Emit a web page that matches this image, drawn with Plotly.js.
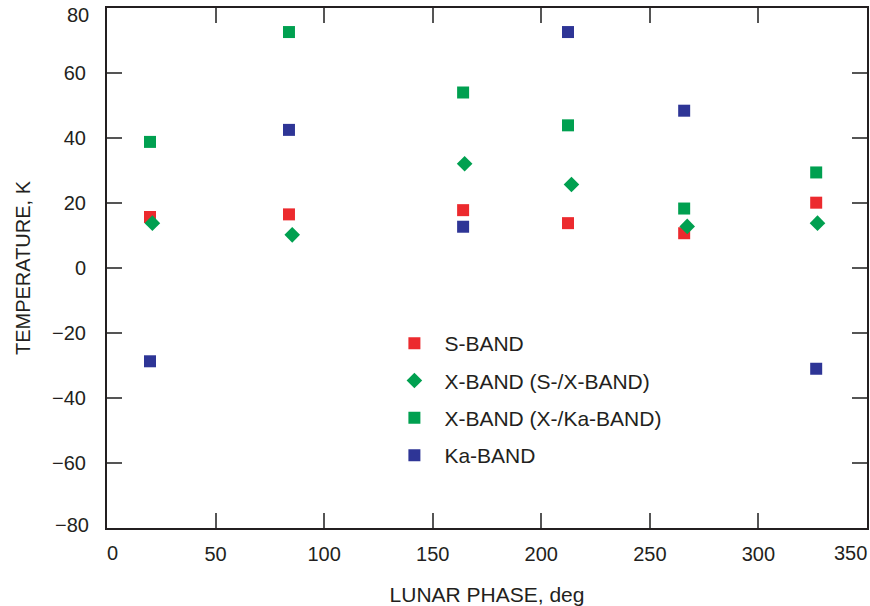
<!DOCTYPE html>
<html>
<head>
<meta charset="utf-8">
<script src="https://cdn.plot.ly/plotly-3.0.1.min.js"></script>
<style>html,body{margin:0;padding:0;background:#fff;}#chart{width:870px;height:606px;}</style>
</head>
<body>
<div id="chart"></div>
<script>
// Lunar phase (deg) and temperature (K) per band
var sBandPhase = [19.8, 83.8, 164, 212.3, 265.8, 326.6];
var sBandTemp = [15.7, 16.5, 17.8, 13.8, 10.7, 20.1];

var xBandSXPhase = [20.9, 85.3, 164.7, 213.9, 267.2, 327.2];
var xBandSXTemp = [13.8, 10.2, 32.1, 25.7, 12.8, 13.8];

var xBandXKaPhase = [19.8, 83.8, 164, 212.3, 265.8, 326.6];
var xBandXKaTemp = [38.8, 72.6, 54.0, 43.9, 18.3, 29.4];

var kaBandPhase = [19.8, 83.8, 164, 212.3, 265.8, 326.6];
var kaBandTemp = [-28.7, 42.5, 12.7, 72.6, 48.4, -31.0];

var seriesNames = ["S-BAND", "X-BAND (S-/X-BAND)", "X-BAND (X-/Ka-BAND)", "Ka-BAND"];
var seriesColors = ["#ec2a2e", "#00a050", "#00a050", "#2e3596"];
var seriesSymbols = ["square", "diamond", "square", "square"];

var xTickVals = [0, 50, 100, 150, 200, 250, 300, 350];
var xTickText = ["0", "50", "100", "150", "200", "250", "300", "350"];
var yTickVals = [-80, -60, -40, -20, 0, 20, 40, 60, 80];
var yTickText = ["\u221280", "\u221260", "\u221240", "\u221220", "0", "20", "40", "60", "80"];

var xs = [sBandPhase, xBandSXPhase, xBandXKaPhase, kaBandPhase];
var ys = [sBandTemp, xBandSXTemp, xBandXKaTemp, kaBandTemp];

var traces = [];
for (var i = 0; i < 4; i++) {
  traces.push({
    type: "scatter",
    mode: "markers",
    x: xs[i],
    y: ys[i],
    name: seriesNames[i],
    legendgroup: "g" + i,
    marker: {
      color: seriesColors[i],
      symbol: seriesSymbols[i],
      size: 12,
      line: {width: 0}
    }
  });
}

var fontFam = "Liberation Sans, Arial, Helvetica, sans-serif";
var txtColor = "#231f20";
var tickFont = {family: fontFam, size: 20, color: txtColor};

// inner tick labels drawn by the axes; the edge labels are nudged inward like the original
var lastX = xTickVals.length - 1, lastY = yTickVals.length - 1;
var xInnerText = xTickText.map(function (t, k) { return (k === 0 || k === lastX) ? "" : t; });
var yInnerText = yTickText.map(function (t, k) { return (k === 0 || k === lastY) ? "" : t; });

var annotations = [
  {xref: "x", yref: "paper", x: xTickVals[0], y: 0, text: xTickText[0], showarrow: false,
   xanchor: "center", yanchor: "middle", xshift: 5, yshift: -25, font: tickFont},
  {xref: "x", yref: "paper", x: xTickVals[lastX], y: 0, text: xTickText[lastX], showarrow: false,
   xanchor: "center", yanchor: "middle", xshift: -17, yshift: -25, font: tickFont},
  {xref: "paper", yref: "y", x: 0, y: yTickVals[0], text: yTickText[0], showarrow: false,
   xanchor: "right", yanchor: "middle", xshift: -16, yshift: 3, font: tickFont},
  {xref: "paper", yref: "y", x: 0, y: yTickVals[lastY], text: yTickText[lastY], showarrow: false,
   xanchor: "right", yanchor: "middle", xshift: -16, yshift: -7, font: tickFont}
];

var layout = {
  width: 870,
  height: 606,
  margin: {l: 107, r: 3, t: 8, b: 78},
  paper_bgcolor: "#ffffff",
  plot_bgcolor: "#ffffff",
  font: {family: fontFam, size: 20, color: txtColor},
  showlegend: true,
  legend: {
    x: 0.365, y: 0.394, xanchor: "left", yanchor: "top",
    bgcolor: "rgba(0,0,0,0)",
    font: {family: fontFam, size: 21, color: txtColor},
    tracegroupgap: 7,
    itemwidth: 50
  },
  annotations: annotations,
  xaxis: {
    range: [0, 350],
    tickvals: xTickVals,
    ticktext: xInnerText,
    ticks: "inside",
    ticklen: 15,
    tickwidth: 2,
    tickcolor: "#555555",
    showline: true,
    linecolor: txtColor,
    linewidth: 2,
    mirror: "ticks",
    showgrid: false,
    zeroline: false,
    ticklabelstandoff: 7,
    tickfont: tickFont,
    title: {text: "LUNAR PHASE, deg", font: {family: fontFam, size: 21, color: txtColor}, standoff: 24}
  },
  yaxis: {
    range: [-80, 80],
    tickvals: yTickVals,
    ticktext: yInnerText,
    ticks: "inside",
    ticklen: 15,
    tickwidth: 2,
    tickcolor: "#555555",
    showline: true,
    linecolor: txtColor,
    linewidth: 2,
    mirror: "ticks",
    showgrid: false,
    zeroline: false,
    ticklabelstandoff: 15,
    tickfont: tickFont,
    title: {text: "TEMPERATURE, K", font: {family: fontFam, size: 20, color: txtColor}, standoff: 16}
  }
};

Plotly.newPlot("chart", traces, layout, {displayModeBar: false, staticPlot: true});
</script>
</body>
</html>
